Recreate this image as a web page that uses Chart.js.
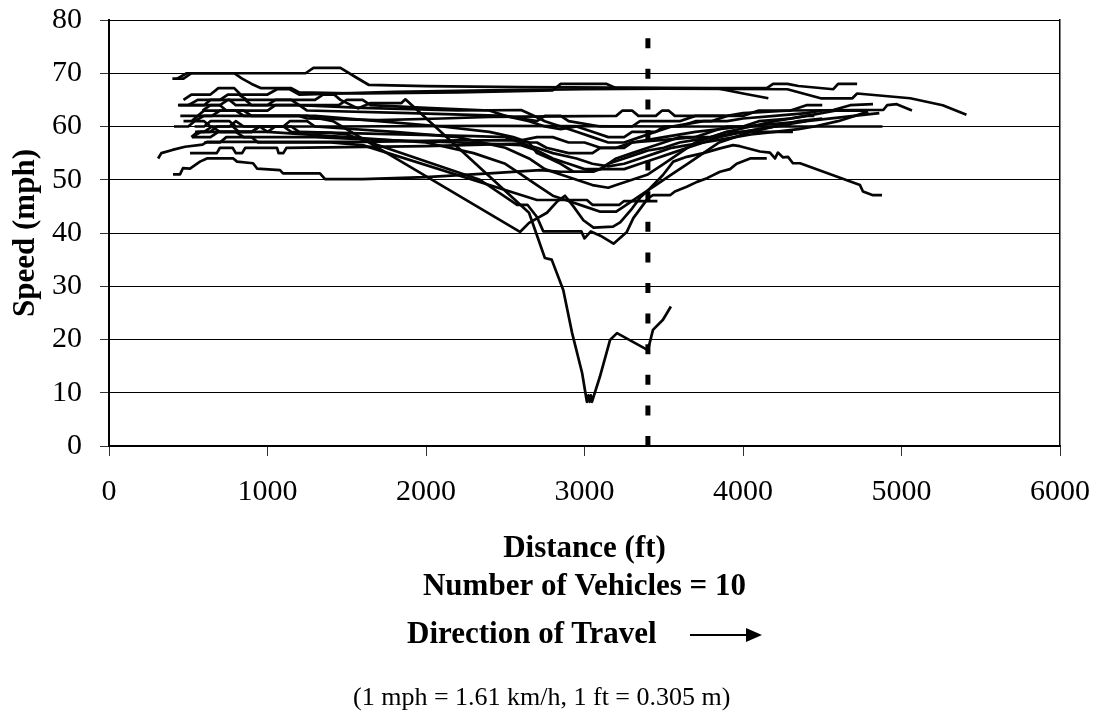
<!DOCTYPE html>
<html>
<head>
<meta charset="utf-8">
<title>Speed profiles</title>
<script src="https://cdn.jsdelivr.net/npm/chart.js@4.4.1/dist/chart.umd.min.js"></script>
<style>
  html, body { margin: 0; padding: 0; background: #fff; }
  #wrap { position: relative; width: 1099px; height: 713px; overflow: hidden; }
  #chart { position: absolute; left: 0; top: 0; }
  .note { position: absolute; font-family: 'Liberation Serif', 'Times New Roman', serif; color: #000; white-space: nowrap; }
  #dir { left: 407px; top: 614px; font-size: 31px; font-weight: bold; line-height: 38px; }
  #arrowLine { position: absolute; left: 690px; top: 634px; width: 58px; height: 2px; background: #000; }
  #arrowHead { position: absolute; left: 746px; top: 628px; width: 0; height: 0;
               border-top: 7px solid transparent; border-bottom: 7px solid transparent; border-left: 16px solid #000; }
  #foot { left: 353px; top: 681px; font-size: 26px; line-height: 32px; }
</style>
</head>
<body>
<div id="wrap">
  <canvas id="chart" width="1099" height="713"></canvas>
  <div class="note" id="dir">Direction of Travel</div>
  <div id="arrowLine"></div>
  <div id="arrowHead"></div>
  <div class="note" id="foot">(1 mph = 1.61 km/h, 1 ft = 0.305 m)</div>
</div>
<script>
// Axis ticks
const distanceTicks = [0, 1000, 2000, 3000, 4000, 5000, 6000];
const speedTicks = [0, 10, 20, 30, 40, 50, 60, 70, 80];

// Location of the marked reference point (ft) and the height of its marker (mph)
const markerDistance = 3400;
const markerTop = 77;

// Speed traces, each point is [distance ft, speed mph]
const run01 = [[400,69],[470,69],[520,70],[1240,70],[1290,71],[1460,71],[1560,69.2],[1640,67.8],[2000,67.6],[2600,67.4],[3200,67.3],[3800,67.2],[4150,67.2],[4190,68],[4280,68],[4350,67.6],[4570,67],[4600,68],[4720,68]];
const run02 = [[430,69],[490,70],[790,70],[840,69],[900,68],[960,67.2],[1150,67.2],[1200,66.4],[1600,66.2],[2200,66.4],[2800,66.8],[2850,68],[3140,68],[3200,67.2],[3850,67.1],[4000,66.2],[4160,65.3]];
const run03 = [[470,65],[520,66],[640,66],[690,67.2],[790,67.2],[830,66],[1000,66],[1060,67],[1140,67],[1200,66],[1800,66.5],[2400,66.8],[3000,67],[3500,67.1],[4280,67],[4490,65.3],[4690,65.3],[4720,66.2],[5055,65.3],[5260,64],[5410,62.2]];
const run04 = [[440,64],[700,64],[750,65],[860,65],[900,64],[1450,64],[1500,65],[1600,65],[1650,64],[2000,63.5],[2400,63],[2500,62],[2700,61],[2750,62],[2850,62],[2900,61],[3100,60],[3300,60],[3350,61],[3600,61],[3700,62],[3900,62],[4000,62.5],[4300,63],[4720,63.1],[4885,63.1],[4910,64],[4970,64.2],[5066,63]];
const run05 = [[590,63],[640,64],[700,64],[740,63],[1000,63],[1050,64],[1200,64],[1250,63],[1900,62.5],[2500,62],[2650,61],[2750,60],[2850,59.5],[2950,60],[3050,59],[3150,58],[3250,58],[3300,59],[3450,59],[3550,60],[3650,60.5],[3750,61],[3900,61],[4000,61.5],[4200,62],[4400,62.5],[4500,63],[4570,63.1],[4676,64],[4820,64.2]];
const run06 = [[410,60],[500,60],[540,61],[600,61],[640,60],[760,60],[800,61],[850,60],[1400,60],[2400,60.1],[3600,60],[4880,60]];
const run07 = [[540,61],[600,62],[1200,62],[1250,61.5],[1700,61.2],[2100,61.5],[2400,61.8],[3200,62],[3240,63],[3300,63],[3340,62],[3450,62],[3490,63],[3530,63],[3570,62],[3890,62]];
const run08 = [[525,58],[580,59],[900,59],[950,60],[1100,60],[1150,59],[1400,58.8],[1500,58.5],[2340,50],[2575,45.3],[2640,45.3],[2700,43],[2740,40.3],[2980,40.3],[3000,39],[3040,40.3],[3100,39.5],[3183,38],[3267,40.2],[3308,42.8],[3400,46.5],[3432,47.1],[3540,47.1],[3570,47.8],[3645,48.7],[3710,49.6],[3773,50.3],[3855,51.5],[3918,52],[3960,53],[4045,54],[4150,54]];
const run09 = [[600,57],[700,57],[740,58],[900,58],[940,57],[1400,57],[1600,56.5],[2700,46.2],[3015,46.2],[3050,45.3],[3220,45.3],[3250,46],[3460,46]];
const run10 = [[500,64],[560,65],[700,65],[750,66],[820,66],[870,65],[1300,65],[1350,66],[1420,66],[1460,65],[1570,63.4],[1650,64.4],[1845,64.4],[1870,65.1],[2650,43.8],[2750,35.3],[2793,35],[2866,29.3],[2922,21.2],[2985,13.7],[3015,8.3],[3025,9.5],[3032,8.3],[3040,9.5],[3047,8.3],[3097,13],[3161,19.9],[3205,21.2],[3400,18],[3432,21.8],[3495,23.7],[3545,26.2]];
const run11 = [[520,58],[560,59],[640,59],[680,60],[780,60],[820,59],[1000,59],[1050,60],[1150,60],[1200,59],[1700,58.6],[2300,58.2],[2500,58],[2600,57],[2700,57],[2760,56],[2900,55],[3050,55],[3100,56],[3250,56],[3300,57],[3500,57.5],[3700,58],[3800,58],[3900,59],[4315,59]];
const run12 = [[470,61],[520,61],[560,62],[650,62],[700,63],[850,63],[900,62],[1300,62],[1700,61],[2100,60],[2400,59],[2550,58],[2650,57],[2700,55],[2780,54],[2850,53],[2930,51.5],[3055,51.5],[3100,52],[3200,54],[3300,55],[3400,56],[3500,57],[3600,58],[3700,58],[3800,59],[3900,60],[4000,60],[4100,61],[4300,61.5],[4400,62],[4450,62]];
const run13 = [[540,60],[600,60],[640,61],[760,61],[800,60],[1100,60],[1140,61],[1250,61],[1300,60],[1800,59],[2200,58],[2500,56],[2650,54],[2750,52],[2850,51],[2950,50],[3050,49],[3150,48.5],[3200,49],[3300,50],[3400,51],[3500,53],[3600,55],[3700,57],[3800,58],[3900,59],[4050,60],[4200,61],[4400,62],[4590,63],[4780,63]];
const run14 = [[543,59],[600,59],[650,60],[700,59],[900,59],[950,60],[1000,59],[1500,58],[2000,57],[2300,55],[2500,53],[2600,51],[2700,49],[2800,47],[2900,46],[3000,45],[3100,44],[3200,44],[3250,45],[3350,47],[3450,49],[3550,51],[3650,53],[3750,55],[3850,57],[3950,58],[4050,59],[4200,60],[4400,61],[4700,62],[4860,62.5]];
const run15 = [[511,55],[680,55],[700,56],[780,56],[800,55],[840,55],[860,56],[1060,56],[1070,55],[1100,55],[1120,56],[2000,56.3],[2600,56.8],[2700,56],[2800,55],[2950,54],[3050,53],[3150,52.5],[3250,53],[3350,54],[3450,55],[3550,56],[3650,56.5],[3750,57],[3850,58],[4000,59],[4200,60],[4350,61],[4500,61.5]];
const run16 = [[450,62],[560,62],[600,63],[800,63],[850,62],[1250,62],[1413,61],[2593,40.2],[2650,41.9],[2763,43.8],[2830,46],[2877,47],[2930,45],[2993,42.4],[3057,41],[3180,41.2],[3225,42],[3300,44.6],[3350,46.6],[3414,48.4],[3495,50.9],[3560,53.4],[3645,54.3],[3750,55],[3855,55.9],[3937,56.5],[3980,56.3],[4107,55.3],[4170,55.1],[4202,54],[4220,55.1],[4253,54.2],[4284,54.3],[4315,53.1],[4360,53.1],[4738,49],[4757,47.8],[4820,47.1],[4877,47.1]];
const run17 = [[404,51],[448,51],[467,52.2],[511,52.1],[574,53.4],[618,54],[784,54],[808,53.4],[909,53.1],[934,52.1],[1079,51.8],[1098,51.2],[1331,51.2],[1363,50.1],[1600,50.1],[2000,50.5],[2400,51.2],[2720,51.8],[2850,51.5],[3000,51.5],[3100,52],[3250,52],[3350,53],[3450,54],[3550,55],[3650,56],[3750,57],[3850,57.5],[3950,58],[4050,58.5],[4200,59],[4350,59.5],[4450,60],[4600,61],[4790,62.8]];
const run18 = [[310,54],[330,55],[400,55.6],[480,56.2],[590,56.6],[618,57.1],[1600,57.1],[2200,57.4],[2600,57.4],[2700,58],[2800,58],[2900,57],[3000,57],[3100,56],[3200,56],[3300,57],[3500,58],[3700,59],[4000,60],[4400,61]];
const run19 = [[435,64],[600,64],[640,65],[760,65],[800,64],[1000,64],[1050,65],[1150,65],[1200,64],[1600,63.5],[2200,63],[2600,63.1],[2680,62],[2750,61],[2850,60],[2950,59],[3050,58],[3150,57],[3250,57],[3350,58],[3450,59],[3500,60],[3600,60],[3700,61],[3800,61],[3900,62],[4000,62],[4100,63],[4300,63],[4400,64],[4500,64]];
const run20 = [[523,58],[640,58],[690,59],[800,59],[850,58],[1300,58],[1700,57.5],[2200,57],[2600,56.5],[2700,55.5],[2800,54],[2900,53],[3000,52],[3100,52],[3150,53],[3250,54],[3350,55],[3400,55.5],[3500,56],[3600,57],[3700,57.5],[3800,58],[3900,58.5],[4000,59],[4100,59.5],[4200,60],[4300,60.3]];

const runs = [run01, run02, run03, run04, run05, run06, run07, run08, run09, run10,
              run11, run12, run13, run14, run15, run16, run17, run18, run19, run20];

const serif = "'Liberation Serif', 'Times New Roman', serif";
const toPoints = arr => arr.map(p => ({ x: p[0], y: p[1] }));

const datasets = [{
  label: 'marker',
  data: toPoints([[markerDistance, 0], [markerDistance, markerTop]]),
  borderColor: '#000',
  borderWidth: 5,
  borderDash: [10, 20.6],
  borderCapStyle: 'butt',
  pointRadius: 0,
  fill: false
}].concat(runs.map((r, i) => ({
  label: 'run' + (i + 1),
  data: toPoints(r),
  borderColor: '#050505',
  borderWidth: 2.7,
  pointRadius: 0,
  tension: 0,
  fill: false
})));

new Chart(document.getElementById('chart'), {
  type: 'line',
  data: { datasets },
  options: {
    responsive: false,
    animation: false,
    devicePixelRatio: 1,
    layout: { padding: { top: 20, right: 39, bottom: 107, left: 0 } },
    plugins: { legend: { display: false }, tooltip: { enabled: false }, title: { display: false } },
    elements: { line: { borderJoinStyle: 'round' } },
    scales: {
      x: {
        type: 'linear',
        min: 0, max: 6000,
        afterBuildTicks: s => { s.ticks = distanceTicks.map(v => ({ value: v })); },
        afterFit: s => { s.height = 160; s.paddingLeft = 0; s.paddingRight = 0; },
        grid: { drawOnChartArea: false, drawTicks: true, tickLength: 10, tickColor: '#333', tickWidth: 1 },
        border: { display: true, color: '#000', width: 2 },
        ticks: { color: '#000', font: { family: serif, size: 30 }, padding: 18, maxRotation: 0, autoSkip: false,
                 callback: v => String(v) },
        title: { display: true, text: ['Distance (ft)', 'Number of Vehicles = 10'], color: '#000',
                 font: { family: serif, size: 31, weight: 'bold', lineHeight: 38 / 31 }, padding: { top: 0, bottom: 0 } }
      },
      y: {
        type: 'linear',
        position: 'left',
        min: 0, max: 80,
        afterBuildTicks: s => { s.ticks = speedTicks.map(v => ({ value: v })); },
        afterFit: s => { s.width = 109; s.paddingTop = 0; s.paddingBottom = 0; },
        grid: { color: '#000', lineWidth: 1, drawTicks: true, tickLength: 9, tickColor: '#333' },
        border: { display: true, color: '#000', width: 2 },
        ticks: { color: '#000', font: { family: serif, size: 30 }, padding: 18, callback: v => String(v) },
        title: { display: true, text: 'Speed (mph)', color: '#000',
                 font: { family: serif, size: 31, weight: 'bold' }, padding: { top: 7, bottom: 0 } }
      },
      yRight: {
        type: 'linear',
        position: 'right',
        min: 0, max: 80,
        afterFit: s => { s.width = 0; s.paddingTop = 0; s.paddingBottom = 0; },
        grid: { display: false, drawTicks: false },
        border: { display: true, color: '#000', width: 1.5 },
        ticks: { display: false }
      }
    }
  }
});
</script>
</body>
</html>
